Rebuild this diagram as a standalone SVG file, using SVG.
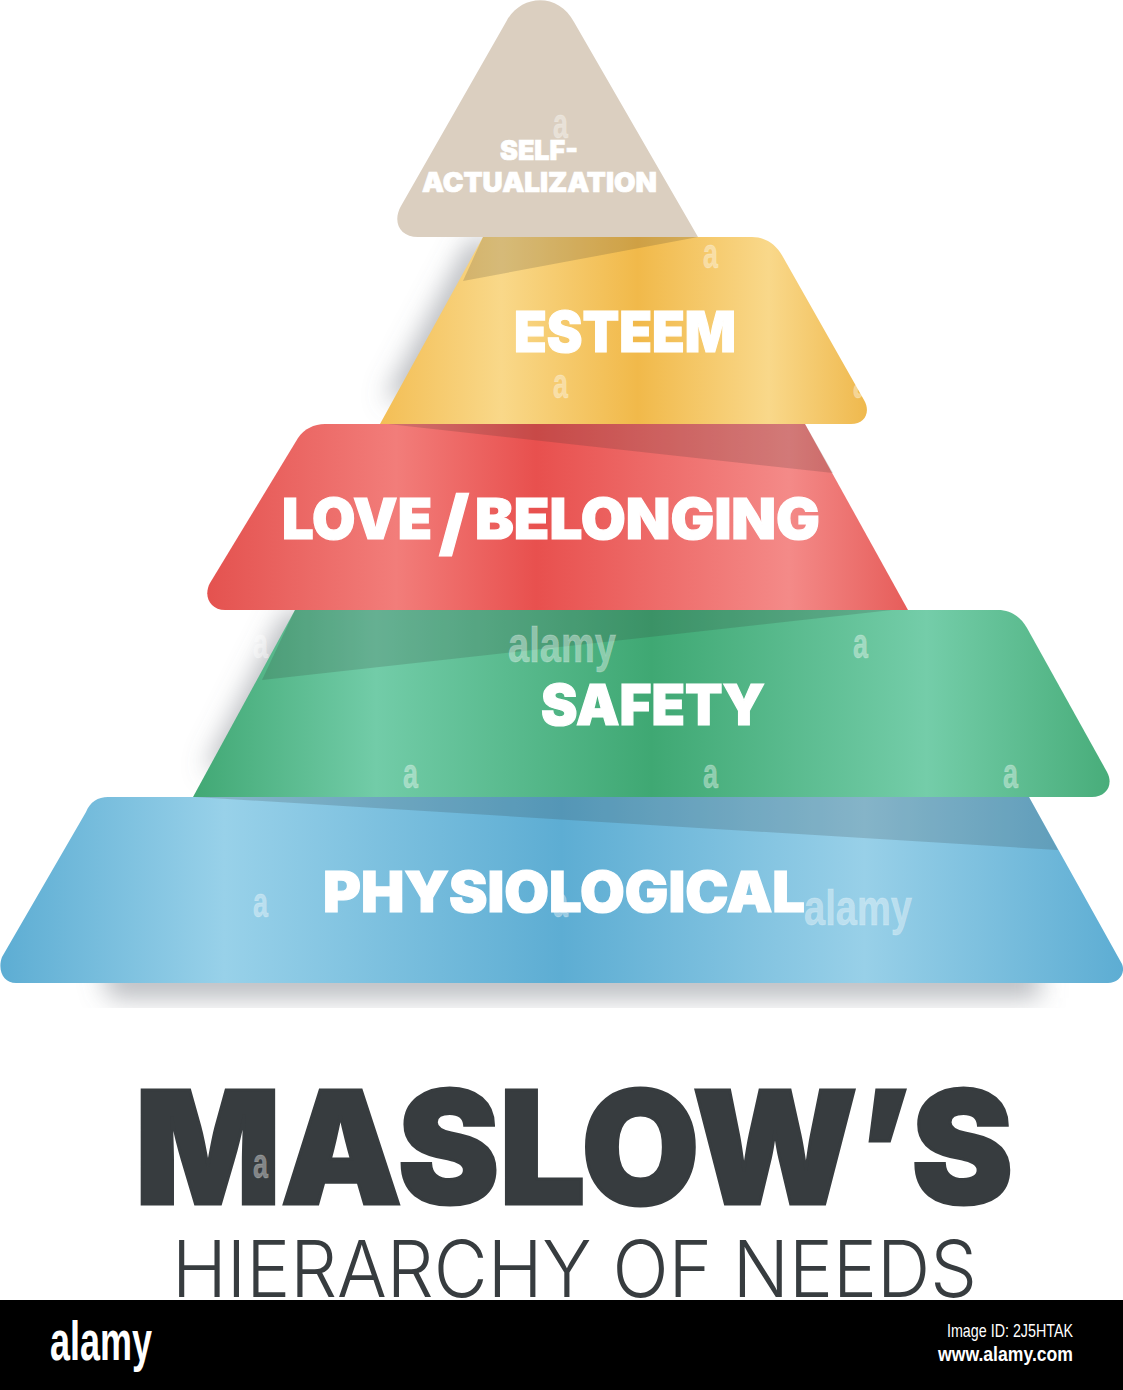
<svg xmlns="http://www.w3.org/2000/svg" width="1123" height="1390" viewBox="0 0 1123 1390">
<style>
.lbl{font-family:"Inter","Liberation Sans",sans-serif;font-weight:900;fill:#fff;stroke:#fff;stroke-width:1.2}
.small{stroke-width:.7}
.wm{font-family:"Liberation Sans",Arial,sans-serif;font-weight:700;fill:#fff;fill-opacity:.38;stroke:#fff;stroke-opacity:.25;stroke-width:.8}
.wa{font-size:42px}
.ttl{font-family:"Inter","Liberation Sans",sans-serif;fill:#373c3f}
.ov{fill:#2c2c2c;fill-opacity:.17}
.sh{fill:#6f7680;fill-opacity:.5;filter:url(#blur)}
.ft{font-family:"Liberation Sans",Arial,sans-serif;fill:#fff}
</style>
<defs>
<filter id="blur" x="-30%" y="-30%" width="160%" height="160%"><feGaussianBlur stdDeviation="13"/></filter>
<linearGradient id="gE" gradientUnits="userSpaceOnUse" x1="380" y1="0" x2="866" y2="0"><stop offset="0" stop-color="#f3be55"/><stop offset=".25" stop-color="#f9d889"/><stop offset=".53" stop-color="#f1b94a"/><stop offset=".8" stop-color="#f9d88a"/><stop offset="1" stop-color="#efb94e"/></linearGradient>
<linearGradient id="gL" gradientUnits="userSpaceOnUse" x1="207" y1="0" x2="908" y2="0"><stop offset="0" stop-color="#e4524f"/><stop offset=".27" stop-color="#f27d7a"/><stop offset=".47" stop-color="#e8504e"/><stop offset=".83" stop-color="#f48a88"/><stop offset="1" stop-color="#e65d5a"/></linearGradient>
<linearGradient id="gS" gradientUnits="userSpaceOnUse" x1="193" y1="0" x2="1110" y2="0"><stop offset="0" stop-color="#41a874"/><stop offset=".2" stop-color="#72cca8"/><stop offset=".5" stop-color="#3fa873"/><stop offset=".8" stop-color="#74cda9"/><stop offset="1" stop-color="#48ad7a"/></linearGradient>
<linearGradient id="gP" gradientUnits="userSpaceOnUse" x1="0" y1="0" x2="1123" y2="0"><stop offset="0" stop-color="#5dadd3"/><stop offset=".2" stop-color="#98d1e9"/><stop offset=".5" stop-color="#5dadd3"/><stop offset=".77" stop-color="#98d0e8"/><stop offset="1" stop-color="#5dadd3"/></linearGradient>
</defs>
<rect width="1123" height="1390" fill="#fff"/>
<g id="shadows">
<path class="sh" d="M470 240L385 400H430L500 240Z"/>
<path class="sh" d="M285 612L205 770H260L330 612Z"/>
<path class="sh" d="M100 965H1040V998H110Z"/>
</g>
<g id="physiological">
<path d="M108 797H1029L1122 964C1126 974 1118 983 1108 983H16C4 983 -3 971 2 957L86 812C90 802 98 797 108 797Z" fill="url(#gP)"/>
<path class="ov" d="M195 797H1029L1058 850Z"/>
<text class="lbl" x="323" y="912" font-size="57" textLength="482" lengthAdjust="spacingAndGlyphs">PHYSIOLOGICAL</text>
<text class="wm" x="804" y="925" font-size="50" textLength="108" lengthAdjust="spacingAndGlyphs">alamy</text>
<text class="wm wa" x="253" y="917" textLength="15" lengthAdjust="spacingAndGlyphs">a</text>
<text class="wm wa" x="553" y="917" textLength="15" lengthAdjust="spacingAndGlyphs">a</text>
</g>
<g id="safety">
<path d="M295 610H998C1010 610 1020 616 1027 628L1107 772C1114 785 1106 797 1092 797H193Z" fill="url(#gS)"/>
<path class="ov" d="M295 610H892L262 680Z"/>
<text class="lbl" x="541" y="725" font-size="56" textLength="224" lengthAdjust="spacingAndGlyphs">SAFETY</text>
<text class="wm" x="508" y="662" font-size="50" textLength="108" lengthAdjust="spacingAndGlyphs">alamy</text>
<text class="wm wa" x="253" y="658" textLength="15" lengthAdjust="spacingAndGlyphs">a</text>
<text class="wm wa" x="853" y="658" textLength="15" lengthAdjust="spacingAndGlyphs">a</text>
<text class="wm wa" x="403" y="788" textLength="15" lengthAdjust="spacingAndGlyphs">a</text>
<text class="wm wa" x="703" y="788" textLength="15" lengthAdjust="spacingAndGlyphs">a</text>
<text class="wm wa" x="1003" y="788" textLength="15" lengthAdjust="spacingAndGlyphs">a</text>
</g>
<g id="love-belonging">
<path d="M325 424H805L908 610H225C210 610 203 596 210 583L298 438C304 429 314 424 325 424Z" fill="url(#gL)"/>
<path class="ov" d="M388 424H805L833 473Z"/>
<text class="lbl" y="539" font-size="57"><tspan x="282" textLength="150" lengthAdjust="spacingAndGlyphs">LOVE</tspan><tspan x="439" font-size="72" dy="9" textLength="30" lengthAdjust="spacingAndGlyphs">/</tspan><tspan x="475" dy="-9" textLength="345" lengthAdjust="spacingAndGlyphs">BELONGING</tspan></text>
</g>
<g id="esteem">
<path d="M483 237H752C765 237 776 244 783 257L864 400C871 412 865 424 851 424H380Z" fill="url(#gE)"/>
<path class="ov" d="M483 237H698L463 281Z"/>
<text class="lbl" x="514" y="352" font-size="57" textLength="222" lengthAdjust="spacingAndGlyphs">ESTEEM</text>
<text class="wm wa" x="703" y="268" textLength="15" lengthAdjust="spacingAndGlyphs">a</text>
<text class="wm wa" x="553" y="398" textLength="15" lengthAdjust="spacingAndGlyphs">a</text>
<text class="wm wa" x="853" y="398" textLength="15" lengthAdjust="spacingAndGlyphs">a</text>
</g>
<g id="self-actualization">
<path d="M506 22C521 -7 559 -7 574 22L698 237H418C400 237 392 222 401 206Z" fill="#dbcfc0"/>
<text class="wm wa" x="553" y="138" textLength="15" lengthAdjust="spacingAndGlyphs">a</text>
<text class="lbl small" x="500" y="160" font-size="27" textLength="78" lengthAdjust="spacingAndGlyphs">SELF-</text>
<text class="lbl small" x="422" y="192" font-size="27" textLength="235" lengthAdjust="spacingAndGlyphs">ACTUALIZATION</text>
</g>
<g id="title">
<text class="ttl" x="135" y="1204" font-weight="900" font-size="157" stroke="#373c3f" stroke-width="3" textLength="878" lengthAdjust="spacingAndGlyphs">MASLOW’S</text>
<text class="wm wa" x="253" y="1178" textLength="15" lengthAdjust="spacingAndGlyphs">a</text>
<text class="ttl" x="172" y="1297" font-weight="300" font-size="78" textLength="805" lengthAdjust="spacingAndGlyphs">HIERARCHY OF NEEDS</text>
</g>
<g id="footer">
<rect y="1300" width="1123" height="90" fill="#000"/>
<text class="ft" x="50" y="1360" font-weight="700" font-size="55" textLength="102" lengthAdjust="spacingAndGlyphs">alamy</text>
<text class="ft" x="947" y="1337" font-size="19" textLength="126" lengthAdjust="spacingAndGlyphs">Image ID: 2J5HTAK</text>
<text class="ft" x="938" y="1361" font-weight="700" font-size="21" textLength="135" lengthAdjust="spacingAndGlyphs">www.alamy.com</text>
</g>
</svg>
